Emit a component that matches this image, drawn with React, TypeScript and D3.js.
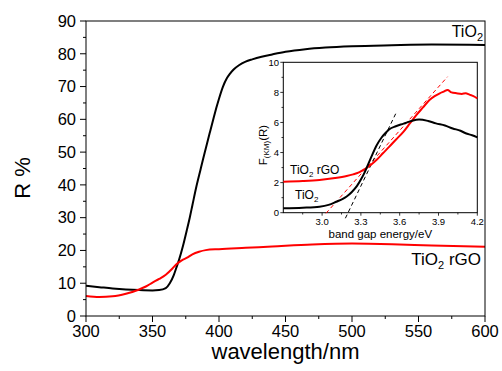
import React from "react";
import * as d3 from "d3";

// Main chart data: reflectance R% vs wavelength
const wavelengths = [300, 310, 320, 330, 340, 350, 355, 360, 363, 366, 368, 370, 373, 376, 378, 380, 383, 386, 388, 390, 393, 396, 398, 400, 403, 406, 408, 411, 415, 420, 425, 432, 440, 450, 465, 480, 500, 530, 560, 600];
const tio2R = [9.2, 8.8, 8.4, 8.1, 7.9, 7.8, 7.9, 8.5, 10.0, 12.5, 14.8, 17.2, 21.5, 26.5, 30.0, 33.8, 39.5, 44.5, 47.8, 51.0, 55.8, 60.5, 63.5, 66.3, 70.0, 72.6, 73.8, 75.2, 76.5, 77.6, 78.3, 79.1, 79.8, 80.6, 81.4, 81.9, 82.3, 82.6, 82.8, 82.7];
const rgoWavelengths = [300, 310, 320, 330, 340, 345, 350, 355, 360, 365, 368, 372, 376, 380, 385, 390, 400, 420, 440, 470, 500, 530, 560, 600];
const rgoR = [6.1, 5.8, 6.0, 6.8, 8.1, 9.0, 10.2, 11.3, 12.6, 14.5, 15.8, 17.0, 17.8, 18.8, 19.6, 20.1, 20.4, 20.8, 21.2, 21.8, 22.1, 21.9, 21.5, 21.1];

const xTicks = [300, 350, 400, 450, 500, 550, 600];
const yTicks = [0, 10, 20, 30, 40, 50, 60, 70, 80, 90];

// Inset data: Kubelka-Munk function vs band gap energy
const insetEnergy = [2.7, 2.85, 2.98, 3.05, 3.11, 3.16, 3.19, 3.23, 3.27, 3.3, 3.33, 3.36, 3.39, 3.42, 3.46, 3.49, 3.52, 3.57, 3.63, 3.69, 3.75, 3.82, 3.88, 3.95, 4.01, 4.07, 4.11, 4.16, 4.2];
const insetTiO2 = [0.29, 0.33, 0.4, 0.52, 0.73, 0.92, 1.08, 1.38, 1.78, 2.2, 2.7, 3.3, 3.9, 4.45, 5.0, 5.3, 5.55, 5.75, 5.92, 6.1, 6.2, 6.1, 5.94, 5.8, 5.6, 5.45, 5.28, 5.15, 5.01];
const rgoEnergy = [2.7, 2.85, 2.98, 3.1, 3.19, 3.24, 3.28, 3.31, 3.34, 3.38, 3.42, 3.47, 3.52, 3.57, 3.63, 3.68, 3.73, 3.78, 3.83, 3.87, 3.91, 3.94, 3.97, 4.0, 4.04, 4.08, 4.11, 4.14, 4.17, 4.2];
const insetRgo = [2.06, 2.1, 2.17, 2.3, 2.44, 2.55, 2.66, 2.8, 2.95, 3.2, 3.5, 3.95, 4.39, 4.85, 5.39, 5.95, 6.5, 7.0, 7.49, 7.75, 7.94, 8.05, 8.16, 8.0, 7.94, 7.9, 7.94, 7.85, 7.75, 7.6];
const dashBlackE = [3.18, 3.57];
const dashBlackV = [-0.37, 6.6];
const dashRedE = [3.03, 3.97];
const dashRedV = [-0.04, 9.04];
const insetXTicks = [3.0, 3.3, 3.6, 3.9, 4.2];
const insetYTicks = [0, 2, 4, 6, 8, 10];

const FONT = "'Liberation Sans', Arial, sans-serif";

export default function App() {
  const W = 502, H = 371;
  const x = d3.scaleLinear().domain([300, 600]).range([86, 485]);
  const y = d3.scaleLinear().domain([0, 90]).range([316, 21]);

  const ix = d3.scaleLinear().domain([2.7, 4.2]).range([283.3, 477.3]);
  const iy = d3.scaleLinear().domain([0, 10]).range([212.7, 62.3]);

  const mainLine = d3.line<[number, number]>().x(d => x(d[0])).y(d => y(d[1])).curve(d3.curveMonotoneX);
  const insetLine = d3.line<[number, number]>().x(d => ix(d[0])).y(d => iy(d[1])).curve(d3.curveMonotoneX);
  const straight = d3.line<[number, number]>().x(d => ix(d[0])).y(d => iy(d[1]));

  const tio2Pts = wavelengths.map((w, i) => [w, tio2R[i]] as [number, number]);
  const rgoPts = rgoWavelengths.map((w, i) => [w, rgoR[i]] as [number, number]);
  const iTio2 = insetEnergy.map((e, i) => [e, insetTiO2[i]] as [number, number]);
  const iRgo = rgoEnergy.map((e, i) => [e, insetRgo[i]] as [number, number]);
  const dB = dashBlackE.map((e, i) => [e, dashBlackV[i]] as [number, number]);
  const dR = dashRedE.map((e, i) => [e, dashRedV[i]] as [number, number]);

  const xMinor = d3.range(325, 600, 50);
  const yMinor = d3.range(5, 90, 10);
  const ixMinor = [2.85, 3.15, 3.45, 3.75, 4.05];
  const iyMinor = [1, 3, 5, 7, 9];

  return (
    <svg width={W} height={H} style={{ position: "absolute", left: 0, top: 0 }} fontFamily={FONT}>
      <rect width={W} height={H} fill="#fff" />
      {/* main curves */}
      <path d={mainLine(tio2Pts) || ""} fill="none" stroke="#000" strokeWidth={2} />
      <path d={mainLine(rgoPts) || ""} fill="none" stroke="#ff0000" strokeWidth={2} />
      {/* frame */}
      <rect x={86} y={21} width={399} height={295} fill="none" stroke="#000" strokeWidth={1} />
      {/* y ticks */}
      {yTicks.map(t => (
        <g key={"y" + t}>
          <line x1={80} x2={86} y1={y(t)} y2={y(t)} stroke="#000" />
          <text x={76} y={y(t)} dy="0.35em" textAnchor="end" fontSize={16.5}>{t}</text>
        </g>
      ))}
      {yMinor.map(t => (
        <line key={"ym" + t} x1={83} x2={86} y1={y(t)} y2={y(t)} stroke="#000" />
      ))}
      {xTicks.map(t => (
        <g key={"x" + t}>
          <line x1={x(t)} x2={x(t)} y1={316} y2={322} stroke="#000" />
          <text x={x(t)} y={337} textAnchor="middle" fontSize={16.5}>{t}</text>
        </g>
      ))}
      {xMinor.map(t => (
        <line key={"xm" + t} x1={x(t)} x2={x(t)} y1={316} y2={319} stroke="#000" />
      ))}
      <text x={285.5} y={359} textAnchor="middle" fontSize={22}>wavelength/nm</text>
      <text transform="translate(30,178) rotate(-90)" textAnchor="middle" fontSize={22}>R %</text>
      {/* series labels */}
      <text x={483} y={37} textAnchor="end" fontSize={16}>
        TiO<tspan fontSize={11} dy={4}>2</tspan>
      </text>
      <text x={481} y={265} textAnchor="end" fontSize={17}>
        TiO<tspan fontSize={11} dy={4}>2</tspan><tspan dy={-4}> rGO</tspan>
      </text>

      {/* inset */}
      <rect x={283.3} y={62.3} width={194} height={150.4} fill="#fff" stroke="#000" strokeWidth={1} />
      <path d={straight(dR) || ""} fill="none" stroke="#ff0000" strokeWidth={1} strokeDasharray="4,3" />
      <path d={straight(dB) || ""} fill="none" stroke="#000" strokeWidth={1} strokeDasharray="4,3" />
      <path d={insetLine(iRgo) || ""} fill="none" stroke="#ff0000" strokeWidth={2} />
      <path d={insetLine(iTio2) || ""} fill="none" stroke="#000" strokeWidth={2} />
      {insetYTicks.map(t => (
        <g key={"iy" + t}>
          <line x1={280.3} x2={283.3} y1={iy(t)} y2={iy(t)} stroke="#000" strokeWidth={0.8} />
          <text x={279} y={iy(t)} dy="0.35em" textAnchor="end" fontSize={9.5}>{t}</text>
        </g>
      ))}
      {iyMinor.map(t => (
        <line key={"iym" + t} x1={281.5} x2={283.3} y1={iy(t)} y2={iy(t)} stroke="#000" strokeWidth={0.8} />
      ))}
      {insetXTicks.map(t => (
        <g key={"ix" + t}>
          <line x1={ix(t)} x2={ix(t)} y1={212.7} y2={215.7} stroke="#000" strokeWidth={0.8} />
          <text x={ix(t)} y={225} textAnchor="middle" fontSize={9.5}>{t.toFixed(1)}</text>
        </g>
      ))}
      {ixMinor.map(t => (
        <line key={"ixm" + t} x1={ix(t)} x2={ix(t)} y1={212.7} y2={214.5} stroke="#000" strokeWidth={0.8} />
      ))}
      <text x={380.3} y={238} textAnchor="middle" fontSize={11.5}>band gap energy/eV</text>
      <text transform="translate(267,145) rotate(-90)" textAnchor="middle" fontSize={11.5}>
        F<tspan fontSize={8} dy={2}>(KM)</tspan><tspan dy={-2}>(R)</tspan>
      </text>
      <text x={290} y={174} fontSize={12}>
        TiO<tspan fontSize={8} dy={3}>2</tspan><tspan dy={-3}> rGO</tspan>
      </text>
      <text x={295} y={199} fontSize={12}>
        TiO<tspan fontSize={8} dy={3}>2</tspan>
      </text>
    </svg>
  );
}
